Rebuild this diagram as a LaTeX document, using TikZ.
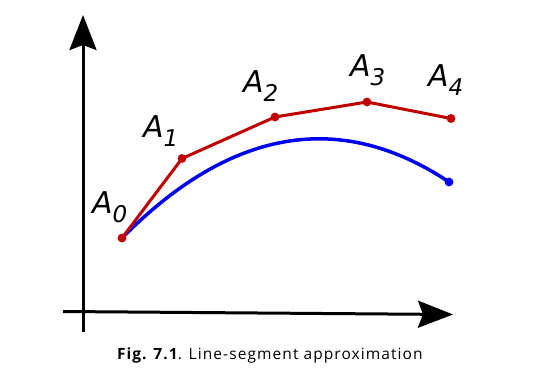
\documentclass[tikz,border=0pt]{standalone}
\usepackage{fontspec}
\newfontfamily\labfont{DejaVu Sans}
\newfontfamily\capfont{Open Sans}[LetterSpace=7]
\usetikzlibrary{arrows.meta}
\definecolor{curvered}{RGB}{192,0,0}
\definecolor{curveblue}{RGB}{0,0,240}
\newcommand{\ptlabel}[1]{{\labfont\itshape\fontsize{30}{30}\selectfont A\raisebox{-9pt}{\fontsize{23}{23}\selectfont #1}}}
\tikzset{
  axis/.style={line width=3pt, -{Stealth[length=35pt,width=27pt,inset=5pt]}},
  polyline/.style={curvered, line width=3pt, line join=round},
  arcline/.style={curveblue, line width=3.5pt},
  lab/.style={anchor=base west, inner sep=0pt, outer sep=0pt},
}
\begin{document}
\begin{tikzpicture}[x=1pt,y=-1pt]
\useasboundingbox (0,0) rectangle (538,385);
% axes
\coordinate (xs) at (63,311.5);
\coordinate (xe) at (453,314.5);
\coordinate (ys) at (83,332);
\coordinate (ye) at (83,15);
\draw[axis] (ys) -- (ye);
\draw[axis] (xs) -- (xe);
% points
\coordinate (a0) at (122,238);
\coordinate (a1) at (182,158.5);
\coordinate (a2) at (275,117);
\coordinate (a3) at (367,102);
\coordinate (a4) at (451,118.5);
\coordinate (b0) at (124,236);
\coordinate (b1) at (449,182);
% blue curve
\draw[arcline] (b0) .. controls (232,128) and (341,110) .. (b1);
\fill[curveblue] (b1) circle (4.4pt);
% red polyline
\draw[polyline] (a0) -- (a1) -- (a2) -- (a3) -- (a4);
\foreach \p in {a0,a1,a2,a3,a4} \fill[curvered] (\p) circle (4.4pt);
% labels
\node[lab] (l0) at (92,213) {\ptlabel{0}};
\node[lab] (l1) at (143,138) {\ptlabel{1}};
\node[lab] (l2) at (243,93) {\ptlabel{2}};
\node[lab] (l3) at (350,77) {\ptlabel{3}};
\node[lab] (l4) at (428,87) {\ptlabel{4}};
% caption
\node[lab] (cap) at (117,359) {\capfont\fontsize{15.5}{15.5}\selectfont\textbf{Fig. 7.1}. Line-segment approximation};
\end{tikzpicture}
\end{document}
